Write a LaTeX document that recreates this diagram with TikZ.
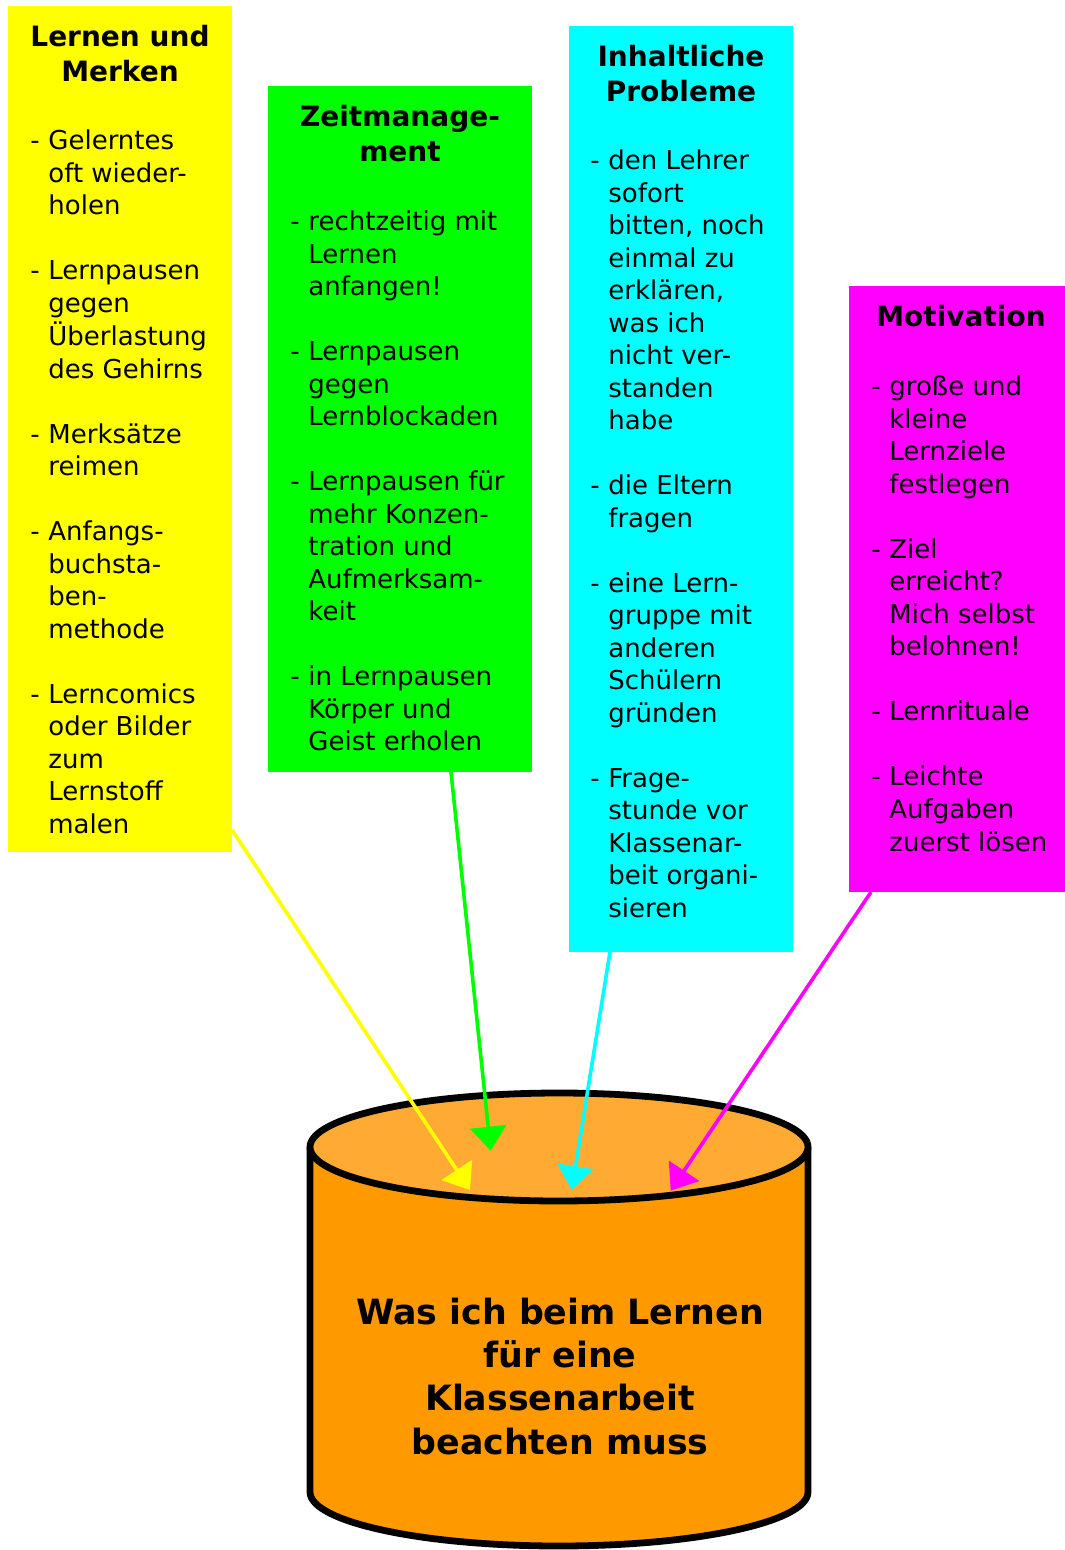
\documentclass[tikz,border=0pt]{standalone}
\usepackage{fontspec}
\setmainfont{DejaVu Sans}
\usetikzlibrary{arrows.meta}
\definecolor{gelb}{HTML}{FFFF00}
\definecolor{gruen}{HTML}{00FF00}
\definecolor{tuerkis}{HTML}{00FFFF}
\definecolor{lila}{HTML}{FF00FF}
\definecolor{tonnekoerper}{HTML}{FF9900}
\definecolor{tonnedeckel}{HTML}{FFAA33}
\newcommand{\lz}{\\[16.25pt]}
\begin{document}
\begin{tikzpicture}[x=0.5pt, y=-0.5pt,
    box/.style={anchor=north west, inner sep=0pt, outer sep=0pt},
    titel/.style={anchor=base, inner sep=0pt, font=\bfseries\fontsize{14}{17.5}\selectfont},
    liste/.style={anchor=base west, inner sep=0pt, font=\fontsize{13}{16.25}\selectfont},
    pfeil/.style={line width=1.8pt, -{Triangle[length=12pt, width=18pt]}},
    tonne/.style={line width=3.4pt, line join=round}]
    \useasboundingbox (0,0) rectangle (1064,1550);
    % die vier Kaesten
    \node[box, fill=gelb, minimum width=112pt, minimum height=423pt] (lern) at (8,6) {};
    \node[box, fill=gruen, minimum width=132pt, minimum height=343pt] (zeit) at (268,86) {};
    \node[box, fill=tuerkis, minimum width=112pt, minimum height=463pt] (inhalt) at (569,26) {};
    \node[box, fill=lila, minimum width=112pt, minimum height=303pt] (moti) at (849,286) {};
    % Ueberschriften
    \node[titel] (lernT) at (120,47) {\begin{tabular}[t]{@{}c@{}}Lernen und\\Merken\end{tabular}};
    \node[titel] (zeitT) at (400,127) {\begin{tabular}[t]{@{}c@{}}Zeitmanage-\\ment\end{tabular}};
    \node[titel] (inhaltT) at (681,67) {\begin{tabular}[t]{@{}c@{}}Inhaltliche\\Probleme\end{tabular}};
    \node[titel] (motiT) at (961,327) {Motivation};
    % Listen
    \node[liste] (lernL) at (30,150) {\begin{tabular}[t]{@{}p{9pt}@{}l@{}}
        - & Gelerntes\\ & oft wieder-\\ & holen\lz
        - & Lernpausen\\ & gegen\\ & Überlastung\\ & des Gehirns\lz
        - & Merksätze\\ & reimen\lz
        - & Anfangs-\\ & buchsta-\\ & ben-\\ & methode\lz
        - & Lerncomics\\ & oder Bilder\\ & zum\\ & Lernstoff\\ & malen
    \end{tabular}};
    \node[liste] (zeitL) at (290,231) {\begin{tabular}[t]{@{}p{9pt}@{}l@{}}
        - & rechtzeitig mit\\ & Lernen\\ & anfangen!\lz
        - & Lernpausen\\ & gegen\\ & Lernblockaden\lz
        - & Lernpausen für\\ & mehr Konzen-\\ & tration und\\ & Aufmerksam-\\ & keit\lz
        - & in Lernpausen\\ & Körper und\\ & Geist erholen
    \end{tabular}};
    \node[liste] (inhaltL) at (590,170) {\begin{tabular}[t]{@{}p{9pt}@{}l@{}}
        - & den Lehrer\\ & sofort\\ & bitten, noch\\ & einmal zu\\ & erklären,\\ & was ich\\ & nicht ver-\\ & standen\\ & habe\lz
        - & die Eltern\\ & fragen\lz
        - & eine Lern-\\ & gruppe mit\\ & anderen\\ & Schülern\\ & gründen\lz
        - & Frage-\\ & stunde vor\\ & Klassenar-\\ & beit organi-\\ & sieren
    \end{tabular}};
    \node[liste] (motiL) at (871,396) {\begin{tabular}[t]{@{}p{9pt}@{}l@{}}
        - & große und\\ & kleine\\ & Lernziele\\ & festlegen\lz
        - & Ziel\\ & erreicht?\\ & Mich selbst\\ & belohnen!\lz
        - & Lernrituale\lz
        - & Leichte\\ & Aufgaben\\ & zuerst lösen
    \end{tabular}};
    % Tonne
    \fill[tonnekoerper] (310,1147) -- (310,1492) arc[start angle=180, end angle=0, x radius=249, y radius=54] -- (808,1147) -- cycle;
    \draw[tonne] (310,1147) -- (310,1492) arc[start angle=180, end angle=0, x radius=249, y radius=54] -- (808,1147);
    \filldraw[tonne, fill=tonnedeckel] (559,1147) ellipse [x radius=249, y radius=54];
    \node[anchor=base, inner sep=0pt, font=\bfseries\fontsize{17.4}{21.7}\selectfont] (ziel) at (560,1324)
        {\begin{tabular}[t]{@{}c@{}}Was ich beim Lernen\\für eine\\Klassenarbeit\\beachten muss\end{tabular}};
    \coordinate (zielA) at (470,1190);
    \coordinate (zielB) at (490.7,1150.7);
    \coordinate (zielC) at (571.7,1190);
    \coordinate (zielD) at (670.7,1190.7);
    % Pfeile
    \draw[pfeil, gelb] ([yshift=11pt]lern.south east) -- (zielA);
    \draw[pfeil, gruen] ([xshift=25.5pt]zeit.south) -- (zielB);
    \draw[pfeil, tuerkis] ([xshift=-35.5pt]inhalt.south) -- (zielC);
    \draw[pfeil, lila] ([xshift=11pt]moti.south west) -- (zielD);
\end{tikzpicture}
\end{document}
